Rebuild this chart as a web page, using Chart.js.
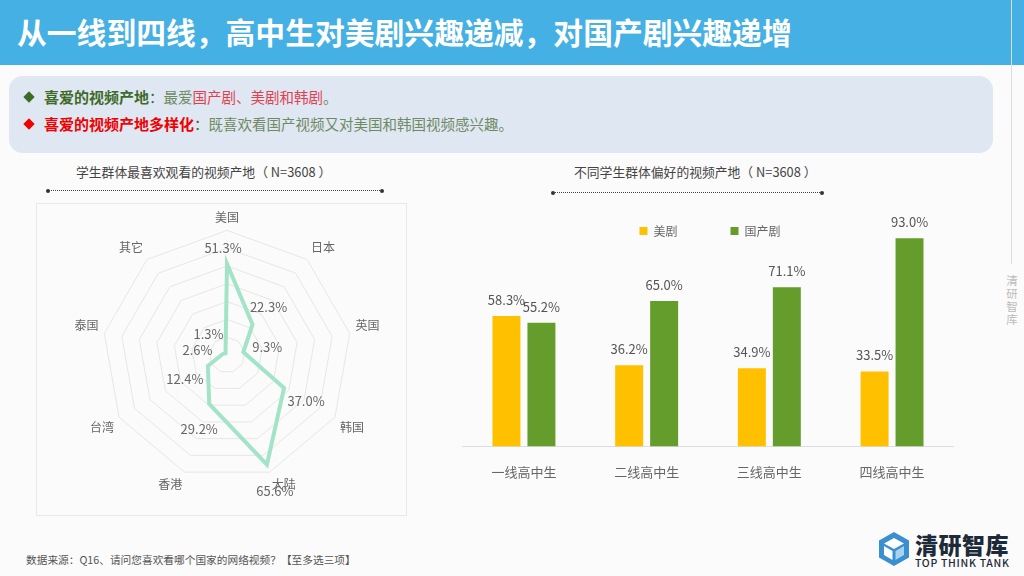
<!DOCTYPE html>
<html lang="zh">
<head>
<meta charset="utf-8">
<script src="https://cdn.jsdelivr.net/npm/chart.js@4/dist/chart.umd.js"></script>
<style>
  html, body { margin: 0; padding: 0; }
  body { width: 1024px; height: 576px; overflow: hidden; position: relative; background: #fbfbfb;
         font-family: "Noto Sans CJK SC", "Noto Sans", sans-serif; color: #555; }
  .abs { position: absolute; white-space: nowrap; }
  #header { left: 0; top: 0; width: 1024px; height: 65px; background: #45b0e3; }
  #title { left: 17px; top: 10px; font-size: 29.8px; line-height: 42px; font-weight: 700; color: #fff; }
  #panel { left: 9px; top: 76px; width: 984px; height: 77px; background: #dfe7f3; border-radius: 14px; }
  .row { font-size: 14.5px; line-height: 20px; color: #6f8a62; }
  .row b { font-size: 15px; }
  .g { color: #3e6a28; }
  .r { color: #f00000; }
  .rr { color: #e2404e; }
  .mark { width: 8px; height: 8px; transform: rotate(45deg); }
  .sub { font-size: 12.8px; line-height: 18px; color: #444; }
  .dots { height: 0; border-top: 1px dotted #444; }
  .dot { width: 4px; height: 4px; border-radius: 50%; background: #333; }
  #frame { left: 36px; top: 203px; width: 369px; height: 311px; border: 1px solid #e8e8e8; }
  canvas { position: absolute; }
  #source { left: 26px; top: 552px; font-size: 10.7px; line-height: 15px; color: #555; }
  #sideline { left: 1011px; top: 0; width: 1px; height: 264px; background: #dcdcdc; }
  #sidetext { left: 1006px; top: 274px; width: 12px; font-size: 11.5px; line-height: 13px; color: #bbb; white-space: normal; text-align: center; }
  #logoname { left: 915px; top: 530px; font-size: 23px; line-height: 28px; font-weight: 900; color: #1c2a3a; letter-spacing: 0.5px; }
  #logoen { left: 915px; top: 556px; font-size: 10.5px; line-height: 13px; font-weight: 500; color: #1c2a3a; letter-spacing: 0.7px; }
</style>
</head>
<body>
<div class="abs" id="header"></div>
<div class="abs" id="title">从一线到四线，高中生对美剧兴趣递减，对国产剧兴趣递增</div>
<div class="abs" id="panel"></div>
<div class="abs mark" style="left:25px;top:93px;background:#3e6a28"></div>
<div class="abs row" style="left:44px;top:87px"><b class="g">喜爱的视频产地</b><span class="g">：</span>最爱<span class="rr">国产剧、美剧和韩剧</span>。</div>
<div class="abs mark" style="left:25px;top:120px;background:#f00000"></div>
<div class="abs row" style="left:44px;top:114px"><b class="r">喜爱的视频产地多样化</b><span class="g">：</span>既喜欢看国产视频又对美国和韩国视频感兴趣。</div>

<div class="abs sub" style="left:76px;top:163px">学生群体最喜欢观看的视频产地（ N=3608 ）</div>
<div class="abs dots" style="left:47px;top:190px;width:335px"></div>
<div class="abs dot" style="left:46px;top:189px"></div>
<div class="abs dot" style="left:380px;top:189px"></div>
<div class="abs sub" style="left:574px;top:163px">不同学生群体偏好的视频产地（ N=3608 ）</div>
<div class="abs dots" style="left:553px;top:192px;width:269px"></div>
<div class="abs dot" style="left:551px;top:191px"></div>
<div class="abs dot" style="left:820px;top:191px"></div>

<div class="abs" id="frame"></div>
<canvas id="radarChart" width="380" height="290" style="left:37px;top:206px"></canvas>
<canvas id="barChart" width="540" height="337" style="left:440px;top:161px"></canvas>

<div class="abs" id="source">数据来源：Q16、请问您喜欢看哪个国家的网络视频？【至多选三项】</div>
<div class="abs" id="sideline"></div>
<div class="abs" id="sidetext">清研智库</div>
<svg class="abs" style="left:877px;top:531px" width="34" height="36" viewBox="0 0 34 36">
  <polygon points="17,1 32,9.5 32,26.5 17,35 2,26.5 2,9.5" fill="#3a8fd0"/>
  <polygon points="17,7 27,12.5 17,18 7,12.5" fill="#ffffff"/>
  <polygon points="7,15 15.5,20 15.5,29 7,24" fill="#ffffff"/>
  <polygon points="27,15 18.5,20 18.5,29 27,24" fill="#a9d2ee"/>
</svg>
<div class="abs" id="logoname">清研智库</div>
<div class="abs" id="logoen">TOP THINK TANK</div>

<script>
const regions = ['美国', '日本', '英国', '韩国', '大陆', '香港', '台湾', '泰国', '其它'];
const regionValues = [51.3, 22.3, 9.3, 37.0, 65.6, 29.2, 12.4, 2.6, 1.3];

const tiers = ['一线高中生', '二线高中生', '三线高中生', '四线高中生'];
const usDrama = [58.3, 36.2, 34.9, 33.5];
const cnDrama = [55.2, 65.0, 71.1, 93.0];

// where each radar value label sits relative to its point
const radarLabelOffsets = [[-4, -16], [16, -18], [24, -5], [22, 13], [8, 26], [-10, 25], [-23, 13], [-25, -4], [-17, -19]];

const labelFont = '13px "Noto Sans CJK SC", "Noto Sans", sans-serif';

const radarValueLabels = {
    id: 'radarValueLabels',
    afterDatasetsDraw(chart) {
        const ctx = chart.ctx;
        ctx.save();
        ctx.font = labelFont;
        ctx.fillStyle = '#666';
        ctx.textAlign = 'center';
        ctx.textBaseline = 'middle';
        chart.getDatasetMeta(0).data.forEach((pt, i) => {
            const [dx, dy] = radarLabelOffsets[i];
            ctx.fillText(regionValues[i].toFixed(1) + '%', pt.x + dx, pt.y + dy);
        });
        ctx.restore();
    }
};

const barValueLabels = {
    id: 'barValueLabels',
    afterDatasetsDraw(chart) {
        const ctx = chart.ctx;
        ctx.save();
        ctx.font = labelFont;
        ctx.fillStyle = '#555';
        ctx.textAlign = 'center';
        ctx.textBaseline = 'middle';
        chart.data.datasets.forEach((ds, d) => {
            chart.getDatasetMeta(d).data.forEach((bar, i) => {
                ctx.fillText(ds.data[i].toFixed(1) + '%', bar.x, bar.y - 16);
            });
        });
        ctx.restore();
    }
};

// the legend sits lower than the top of the canvas in the reference
const moveLegend = {
    id: 'moveLegend',
    afterLayout(chart) {
        const legend = chart.legend;
        legend.left += 2;
        legend.right += 2;
        legend.top += 11;
        legend.bottom += 11;
    }
};

new Chart(document.getElementById('radarChart'), {
    type: 'radar',
    data: {
        labels: regions,
        datasets: [{
            data: regionValues,
            borderColor: '#a3e4c9',
            borderWidth: 4,
            backgroundColor: 'rgba(0,0,0,0)',
            fill: false,
            pointRadius: 0,
            tension: 0
        }]
    },
    options: {
        responsive: false,
        animation: false,
        plugins: { legend: { display: false }, tooltip: { enabled: false } },
        scales: {
            r: {
                min: 0,
                max: 70,
                ticks: { display: false, stepSize: 10 },
                angleLines: { display: false },
                grid: { color: '#e6e6e6', lineWidth: 1 },
                pointLabels: {
                    color: '#666',
                    padding: 6,
                    font: { size: 12, family: '"Noto Sans CJK SC", "Noto Sans", sans-serif' }
                }
            }
        }
    },
    plugins: [radarValueLabels]
});

new Chart(document.getElementById('barChart'), {
    type: 'bar',
    data: {
        labels: tiers,
        datasets: [
            { label: '美剧', data: usDrama, backgroundColor: '#ffc000' },
            { label: '国产剧', data: cnDrama, backgroundColor: '#659d2d' }
        ]
    },
    options: {
        responsive: false,
        animation: false,
        layout: { padding: { left: 22.6, right: 26.6, bottom: 8 } },
        datasets: { bar: { categoryPercentage: 0.57, barPercentage: 0.8 } },
        plugins: {
            tooltip: { enabled: false },
            legend: {
                position: 'top',
                labels: {
                    boxWidth: 8,
                    boxHeight: 8,
                    padding: 53,
                    color: '#666',
                    font: { size: 12, family: '"Noto Sans CJK SC", "Noto Sans", sans-serif' }
                }
            }
        },
        scales: {
            x: {
                grid: { display: false },
                border: { color: '#dddddd' },
                ticks: {
                    color: '#666',
                    padding: 10,
                    maxRotation: 0,
                    font: { size: 13, family: '"Noto Sans CJK SC", "Noto Sans", sans-serif' }
                }
            },
            y: { display: false, min: 0, max: 94 }
        }
    },
    plugins: [barValueLabels, moveLegend]
});
</script>
</body>
</html>
